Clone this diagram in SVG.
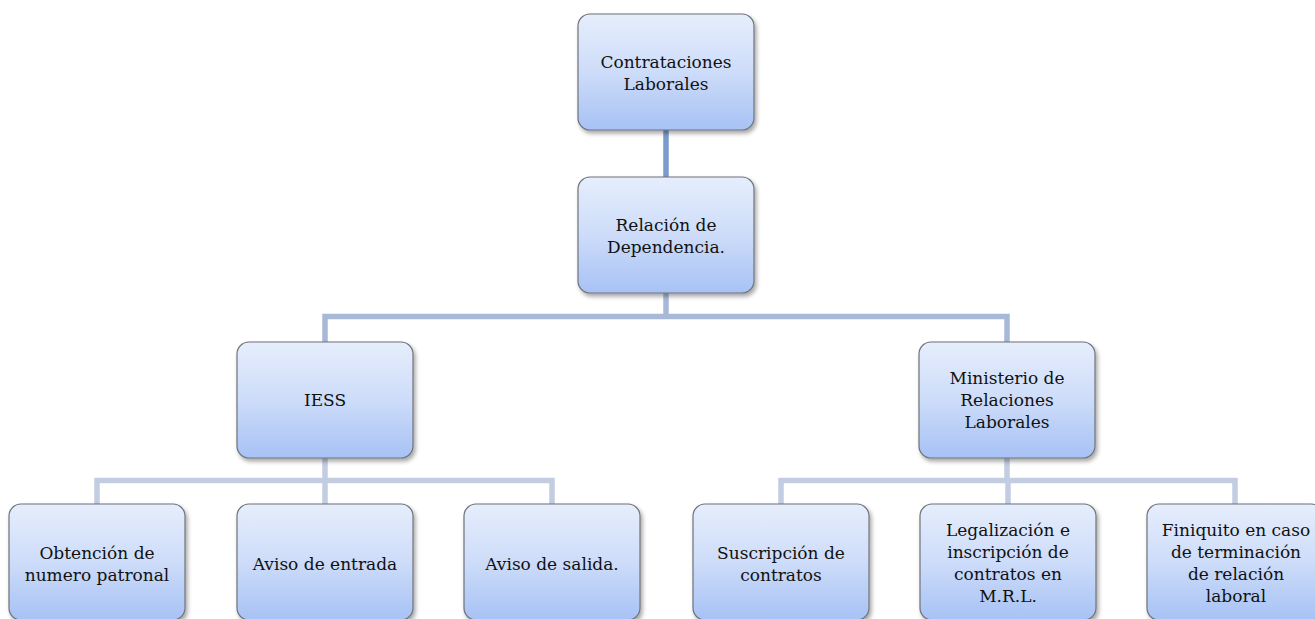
<svg xmlns="http://www.w3.org/2000/svg" width="1315" height="619" viewBox="0 0 1315 619">
<defs>
<linearGradient id="g" x1="0" y1="0" x2="0" y2="1">
<stop offset="0" stop-color="#e6eefc"/>
<stop offset="0.5" stop-color="#cddcf9"/>
<stop offset="1" stop-color="#a7c2f5"/>
</linearGradient>
<filter id="sh" x="-10%" y="-10%" width="125%" height="130%">
<feDropShadow dx="2" dy="3" stdDeviation="2" flood-color="#000" flood-opacity="0.35"/>
</filter>
</defs>
<style>
.box{fill:url(#g);stroke:#6f737a;stroke-width:1.2;filter:url(#sh)}
.t{font-family:"DejaVu Serif","Liberation Serif",serif;font-size:17px;fill:#111;text-anchor:middle}
.c1{fill:none;stroke:#7b9bcc;stroke-width:5.5}
.c2{fill:none;stroke:#a8b9d8;stroke-width:5.5}
.c3{fill:none;stroke:#c3cde2;stroke-width:5.5}
</style>
<g id="connectors">
<path class="c1" d="M666 130V177"/>
<path class="c2" d="M666 293V316.5M325 342V316.5H1007V342"/>
<path class="c3" d="M325 458V480.5M97 504V480.5H552V504M325 480.5V504"/>
<path class="c3" d="M1007 458V480.5M781 504V480.5H1235V504M1008 480.5V504"/>
</g>
<g id="n-contrataciones">
<rect class="box" x="578" y="14" width="176" height="116" rx="12"/>
<text class="t"><tspan x="666" y="68">Contrataciones</tspan><tspan x="666" y="90">Laborales</tspan></text>
</g>
<g id="n-relacion">
<rect class="box" x="578" y="177" width="176" height="116" rx="12"/>
<text class="t"><tspan x="666" y="231">Relación de</tspan><tspan x="666" y="253">Dependencia.</tspan></text>
</g>
<g id="n-iess">
<rect class="box" x="237" y="342" width="176" height="116" rx="12"/>
<text class="t" x="325" y="406">IESS</text>
</g>
<g id="n-ministerio">
<rect class="box" x="919" y="342" width="176" height="116" rx="12"/>
<text class="t"><tspan x="1007" y="384">Ministerio de</tspan><tspan x="1007" y="406">Relaciones</tspan><tspan x="1007" y="428">Laborales</tspan></text>
</g>
<g id="n-obtencion">
<rect class="box" x="9" y="504" width="176" height="116" rx="12"/>
<text class="t"><tspan x="97" y="559">Obtención de</tspan><tspan x="97" y="581">numero patronal</tspan></text>
</g>
<g id="n-entrada">
<rect class="box" x="237" y="504" width="176" height="116" rx="12"/>
<text class="t" x="325" y="570">Aviso de entrada</text>
</g>
<g id="n-salida">
<rect class="box" x="464" y="504" width="176" height="116" rx="12"/>
<text class="t" x="552" y="570">Aviso de salida.</text>
</g>
<g id="n-suscripcion">
<rect class="box" x="693" y="504" width="176" height="116" rx="12"/>
<text class="t"><tspan x="781" y="559">Suscripción de</tspan><tspan x="781" y="581">contratos</tspan></text>
</g>
<g id="n-legalizacion">
<rect class="box" x="920" y="504" width="176" height="116" rx="12"/>
<text class="t"><tspan x="1008" y="536">Legalización e</tspan><tspan x="1008" y="558">inscripción de</tspan><tspan x="1008" y="580">contratos en</tspan><tspan x="1008" y="602">M.R.L.</tspan></text>
</g>
<g id="n-finiquito">
<rect class="box" x="1147" y="504" width="176" height="116" rx="12"/>
<text class="t"><tspan x="1236" y="536">Finiquito en caso</tspan><tspan x="1236" y="558">de terminación</tspan><tspan x="1236" y="580">de relación</tspan><tspan x="1236" y="602">laboral</tspan></text>
</g>
</svg>
